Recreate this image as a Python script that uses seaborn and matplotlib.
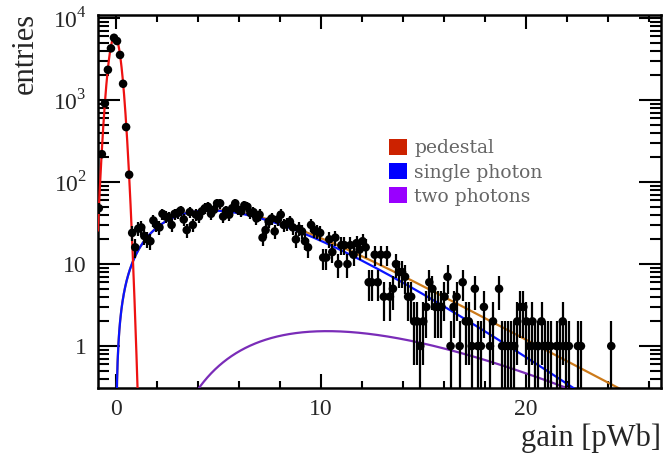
import numpy as np
import pandas as pd
import seaborn as sns
import matplotlib.pyplot as plt
from matplotlib.patches import Patch
from matplotlib.ticker import MultipleLocator, LogLocator, NullFormatter

# histogram: bin centres start at -0.84, width 0.148 pWb
first_center = -0.84
bin_width = 0.148
counts = [48, 219, 912, 2340, 4270, 5750, 5250, 3550, 1580, 468, 123,
          24, 16, 27, 28, 22, 20, 19, 34, 30, 28,
          41, 38, 37, 30, 41, 42, 45, 35, 26, 43,
          30, 40, 38, 44, 48, 50, 41, 46, 55, 55,
          38, 45, 40, 48, 55, 46, 44, 52, 50, 42,
          43, 36, 40, 21, 26, 33, 36, 25, 35, 40,
          30, 31, 33, 28, 20, 27, 25, 19, 16, 30,
          26, 25, 24, 12, 12, 20, 14, 21, 10, 17,
          17, 10, 17, 13, 18, 15, 19, 16, 6, 6,
          13, 6, 13, 4, 13, 4, 5, 10, 8, 8,
          7, 4, 4, 2, 2, 1, 2, 3, 6, 5,
          3, 3, 3, 4, 7, 1, 3, 4, 1, 6,
          2, 2, 1, 5, 1, 1, 3, 0, 1, 2,
          0, 5, 1, 1, 1, 1, 1, 2, 3, 3,
          2, 1, 2, 1, 1, 2, 1, 1, 1, 0,
          1, 1, 2, 1, 1, 0, 0, 1, 1, 0,
          0, 0, 0, 0, 0, 0, 0, 0, 1]

# fit parameters (estimated)
ped_amp, ped_mean, ped_sigma = 6000.0, -0.06, 0.25
sp_peak, sp_k, sp_s, sp_c = 45.0, 1.2, 0.45, 6.5
tp_peak, tp_pos, tp_start, tp_k = 1.52, 10.3, 1.0, 3.6

legend_labels = ["pedestal", "single photon", "two photons"]
legend_colors = ["#cc2200", "#0000ff", "#9900ff"]

# --- data frame
n = np.array(counts, dtype=float)
centers = first_center + bin_width * np.arange(len(n))
df = pd.DataFrame({"gain": centers, "entries": n})
df = df[df.entries > 0]
err_hi = np.sqrt(df.entries)
err_lo = np.minimum(np.sqrt(df.entries), df.entries * 0.999)

# --- fit curves
def pedestal(x):
    return ped_amp * np.exp(-(x - ped_mean) ** 2 / (2 * ped_sigma ** 2))

def single(x):
    x = np.clip(x, 1e-6, None)
    xp = 4.6
    g = lambda t: sp_k * np.log(t) - sp_s * np.sqrt(t ** 2 + sp_c ** 2)
    return sp_peak * np.exp(g(x) - g(xp))

def double(x):
    u = np.clip(x - tp_start, 1e-6, None)
    up = tp_pos - tp_start
    theta = up / tp_k
    return tp_peak * (u / up) ** tp_k * np.exp((up - u) / theta)

xs = np.linspace(-0.9, 26.6, 2000)
xp_ = xs[xs > 0]
xd = xs[xs > tp_start]

sns.set_style("ticks")
plt.rcParams["font.family"] = ["Liberation Serif", "DejaVu Serif"]
plt.rcParams["mathtext.fontset"] = "custom"
plt.rcParams["mathtext.rm"] = "Liberation Serif"

fig = plt.figure(figsize=(6.66, 4.54), dpi=100)
ax = fig.add_axes([98 / 666, 66 / 454, 563 / 666, 373 / 454])

sns.lineplot(x=xp_, y=single(xp_) + double(xp_), ax=ax, color="#cc7a1a", lw=1.6, zorder=2)
sns.lineplot(x=xp_, y=single(xp_), ax=ax, color="#0a14ff", lw=1.6, zorder=3)
sns.lineplot(x=xd, y=double(xd), ax=ax, color="#7a2cb8", lw=1.6, zorder=3)
sns.lineplot(x=xs, y=pedestal(xs), ax=ax, color="#ee1111", lw=1.6, zorder=4)

ax.errorbar(df.gain, df.entries, yerr=[err_lo, err_hi], fmt="none",
            ecolor="black", elinewidth=1.6, zorder=5)
sns.scatterplot(data=df, x="gain", y="entries", ax=ax, color="black",
                s=38, edgecolor="none", zorder=6)

ax.set_yscale("log")
ax.set_xlim(-0.88, 26.6)
ax.set_ylim(0.308, 10900)

ax.xaxis.set_major_locator(MultipleLocator(10))
ax.xaxis.set_minor_locator(MultipleLocator(2))
ax.set_yticks([1, 10, 100, 1000, 10000])
ax.set_yticklabels(["1", "10", r"$10^{2}$", r"$10^{3}$", r"$10^{4}$"])
ax.yaxis.set_minor_locator(LogLocator(base=10, subs=np.arange(2, 10)))
ax.yaxis.set_minor_formatter(NullFormatter())

ax.tick_params(which="both", direction="in", top=True, right=True, width=1.5,
               labelsize=17, color="black")
ax.tick_params(axis="x", which="major", length=10, pad=8)
ax.tick_params(axis="x", which="minor", length=5)
ax.tick_params(axis="y", which="major", length=16, pad=8)
ax.tick_params(axis="y", which="minor", length=8)
for sp in ax.spines.values():
    sp.set_linewidth(1.8)
    sp.set_color("black")

ax.set_xlabel("gain [pWb]", fontsize=22, loc="right")
ax.xaxis.set_label_coords(1.0, -0.094)
ax.set_ylabel("entries", fontsize=22, loc="top")
ax.yaxis.set_label_coords(-0.103, 1.005)

handles = [Patch(facecolor=c, edgecolor="none") for c in legend_colors]
leg = ax.legend(handles, legend_labels, loc="upper left",
                bbox_to_anchor=((372 - 98) / 563, (454 - 122 - 66) / 373),
                frameon=False, handlelength=0.95, handleheight=0.95,
                handletextpad=0.4, labelspacing=0.3,
                prop={"family": "DejaVu Serif", "size": 13.5})
for t in leg.get_texts():
    t.set_color("#666666")

fig.savefig("out.png", dpi=100)
